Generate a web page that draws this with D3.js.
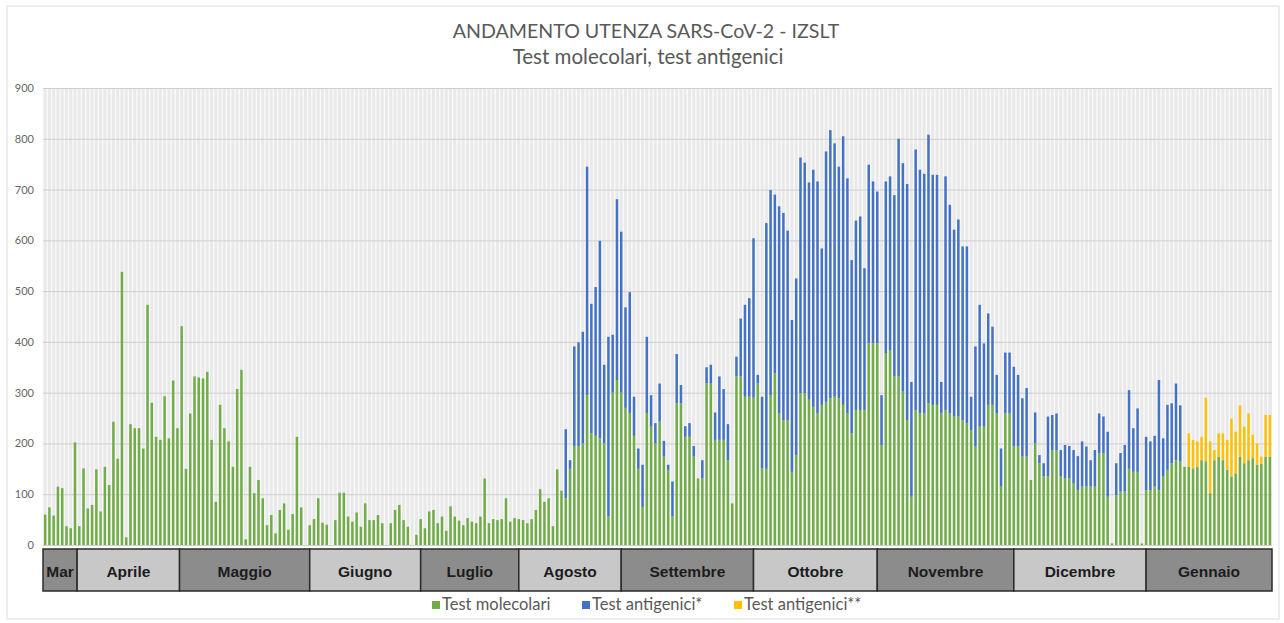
<!DOCTYPE html>
<html>
<head>
<meta charset="utf-8">
<script src="https://cdn.jsdelivr.net/npm/d3@7"></script>
<style>
  body { margin: 0; background: #fff; }
  svg { display: block; font-family: Lato, "Open Sans", sans-serif; }
</style>
</head>
<body>
<div id="vis"></div>
<script>
// valori giornalieri (test molecolari = verde)
var molecolari = [
  60,74,58,115,112,37,33,202,37,151,72,79,149,66,154,118,243,170,538,15,238,230,230,190,473,280,213,207,293,210,324,230,431,150,259,332,
  330,328,341,207,85,276,230,204,154,307,345,11,154,102,128,92,39,59,23,69,82,30,61,213,74,0,39,51,92,44,40,0,49,103,103,56,
  46,64,36,82,49,49,59,43,0,43,69,79,49,36,0,20,51,33,66,69,43,56,28,76,56,48,39,53,46,43,56,131,43,51,49,51,92,
  46,53,51,49,43,51,69,110,85,92,37,149,107,
  92,150,195,195,200,295,220,215,210,200,56,300,325,300,270,260,215,150,75,260,233,200,243,
  174,148,56,279,279,213,213,174,131,131,318,318,207,207,207,167,82,332,332,292,292,290,318,151,150,295,338,259,246,246,144,177,299,299,286,272,259,
  276,282,289,292,289,276,259,220,266,266,266,397,397,397,197,378,384,332,332,302,246,95,266,259,259,279,276,276,259,266,259,253,253,246,240,226,
  194,233,233,276,276,259,115,259,259,194,194,174,174,128,200,161,135,135,187,187,135,131,131,121,108,115,115,115,115,181,181,95,3,98,105,105,
  150,144,144,3,108,108,115,108,135,148,161,167,165,
  154,
  154,151,154,167,165,102,167,174,167,148,135,141,174,161,167,171,158,160,174,174
];

// test antigenici* (blu)
var antigenici1 = [
  0,0,0,0,0,0,0,0,0,0,0,0,0,0,0,0,0,0,0,0,0,0,0,0,0,0,0,0,0,0,0,0,0,0,0,0,
  0,0,0,0,0,0,0,0,0,0,0,0,0,0,0,0,0,0,0,0,0,0,0,0,0,0,0,0,0,0,0,0,0,0,0,0,
  0,0,0,0,0,0,0,0,0,0,0,0,0,0,0,0,0,0,0,0,0,0,0,0,0,0,0,0,0,0,0,0,0,0,0,0,0,
  0,0,0,0,0,0,0,0,0,0,0,0,0,
  136,17,196,204,220,450,255,293,389,155,354,114,356,317,198,238,77,40,83,150,62,40,75,
  31,10,69,97,36,21,27,21,0,36,32,37,54,125,100,71,0,39,114,181,194,314,17,141,484,404,352,408,408,373,299,348,464,454,428,467,457,
  308,493,528,499,456,529,463,341,373,381,279,352,319,299,98,338,342,357,468,450,465,226,513,480,472,529,453,453,62,460,411,368,388,342,348,66,
  197,240,164,180,154,76,75,120,120,157,141,115,135,0,61,16,26,118,69,72,52,66,64,66,67,89,79,52,72,78,72,128,0,63,76,92,
  155,86,125,0,105,96,100,217,75,128,118,151,110,
  0,
  0,0,0,0,0,0,0,0,0,0,0,0,0,0,0,0,0,0,0,0
];

// test antigenici** (giallo), solo a gennaio
var antigenici2 = [];
for (var i = 0; i < molecolari.length - 20; i++) antigenici2.push(0);
antigenici2 = antigenici2.concat([66,56,50,46,125,102,20,46,53,59,114,82,101,72,92,46,42,14,82,82]);

var yTicks = [0, 100, 200, 300, 400, 500, 600, 700, 800, 900];
var months = ['Mar', 'Aprile', 'Maggio', 'Giugno', 'Luglio', 'Agosto', 'Settembre', 'Ottobre', 'Novembre', 'Dicembre', 'Gennaio'];
var monthStart = [0, 8, 32, 62.5, 88.5, 111.5, 135.5, 166.5, 195.5, 227.5, 258.5];
var seriesNames = ['Test molecolari', 'Test antigenici*', 'Test antigenici**'];
var seriesKeys = ['mol', 'ag1', 'ag2'];
var colors = ['#70ad47', '#4472c4', '#ffc000'];

var width = 1284,
    height = 623,
    plotLeft = 43,
    plotRight = 1272,
    plotTop = 88,
    plotBottom = 545;

var n = molecolari.length;
var days = d3.range(n);

var table = days.map(function(i) {
  return { day: i, mol: molecolari[i], ag1: antigenici1[i], ag2: antigenici2[i] };
});

var stacked = d3.stack().keys(seriesKeys)(table);

var xScale = d3.scaleBand()
  .domain(days)
  .range([plotLeft, plotRight])
  .paddingInner(0.42)
  .paddingOuter(0.21);

var yScale = d3.scaleLinear()
  .domain([0, 900])
  .range([plotBottom, plotTop]);

function edge(k) {
  return plotLeft + k * xScale.step();
}

var svg = d3.select('#vis')
  .append('svg')
    .attr('width', width)
    .attr('height', height);

// cornice esterna
svg.append('rect')
  .attr('x', 7).attr('y', 6)
  .attr('width', width - 12).attr('height', height - 10)
  .attr('fill', 'none')
  .attr('stroke', '#dedede');

// titolo
svg.append('text')
  .attr('x', 646).attr('y', 38)
  .attr('text-anchor', 'middle')
  .style('font-size', '19.6px')
  .style('fill', '#595959')
  .text('ANDAMENTO UTENZA SARS-CoV-2 - IZSLT');

svg.append('text')
  .attr('x', 648).attr('y', 64)
  .attr('text-anchor', 'middle')
  .style('font-size', '20.5px')
  .style('fill', '#595959')
  .text('Test molecolari, test antigenici');

// sfondo area grafico
svg.append('rect')
  .attr('x', plotLeft).attr('y', plotTop)
  .attr('width', plotRight - plotLeft).attr('height', plotBottom - plotTop)
  .attr('fill', '#e9e9e9');

// griglia verticale
svg.append('g')
  .selectAll('line')
  .data(days)
  .enter()
  .append('line')
    .attr('x1', function(d) { return edge(d); })
    .attr('x2', function(d) { return edge(d); })
    .attr('y1', plotTop).attr('y2', plotBottom)
    .attr('stroke', '#fafafa')
    .attr('stroke-width', 1.3);

// griglia orizzontale
var yAxis = d3.axisLeft(yScale)
  .tickValues(yTicks)
  .tickSize(-(plotRight - plotLeft))
  .tickPadding(9);

svg.append('g')
  .attr('transform', 'translate(' + plotLeft + ',0)')
  .call(yAxis)
  .call(function(g) {
    g.select('.domain').remove();
    g.selectAll('.tick line').attr('stroke', '#cfcfcf');
    g.selectAll('.tick text')
      .style('font-size', '11px')
      .style('fill', '#666')
      .style('font-family', 'Lato, sans-serif');
  });

// barre impilate
svg.append('g')
  .selectAll('g')
  .data(stacked)
  .enter()
  .append('g')
    .attr('fill', function(d, i) { return colors[i]; })
  .selectAll('rect')
  .data(function(d) { return d; })
  .enter()
  .append('rect')
    .attr('x', function(d) { return xScale(d.data.day); })
    .attr('width', xScale.bandwidth())
    .attr('y', function(d) { return yScale(d[1]); })
    .attr('height', function(d) { return Math.max(0, yScale(d[0]) - yScale(d[1])); });

// tabella dei mesi
var monthG = svg.append('g')
  .selectAll('g')
  .data(months)
  .enter()
  .append('g');

monthG.append('rect')
  .attr('x', function(d, i) { return edge(monthStart[i]); })
  .attr('y', 549)
  .attr('width', function(d, i) {
    var end = i < months.length - 1 ? monthStart[i + 1] : n;
    return edge(end) - edge(monthStart[i]);
  })
  .attr('height', 42)
  .attr('fill', function(d, i) { return i % 2 === 0 ? '#8c8c8c' : '#c8c8c8'; })
  .attr('stroke', '#2b2b2b')
  .attr('stroke-width', 1.5);

monthG.append('text')
  .attr('x', function(d, i) {
    var end = i < months.length - 1 ? monthStart[i + 1] : n;
    return (edge(end) + edge(monthStart[i])) / 2;
  })
  .attr('y', 577)
  .attr('text-anchor', 'middle')
  .style('font-family', '"Liberation Sans", Arial, sans-serif')
  .style('font-weight', 'bold')
  .style('font-size', '15.5px')
  .style('fill', '#1c1c1c')
  .text(function(d) { return d; });

// legenda
var legendX = [432, 582, 734];
var legend = svg.append('g')
  .selectAll('g')
  .data(seriesNames)
  .enter()
  .append('g')
    .attr('transform', function(d, i) { return 'translate(' + legendX[i] + ',605)'; });

legend.append('rect')
  .attr('x', 0).attr('y', -4)
  .attr('width', 8).attr('height', 8)
  .attr('fill', function(d, i) { return colors[i]; });

legend.append('text')
  .attr('x', 10).attr('y', 5)
  .style('font-size', '16.5px')
  .style('fill', '#595959')
  .text(function(d) { return d; });
</script>
</body>
</html>
